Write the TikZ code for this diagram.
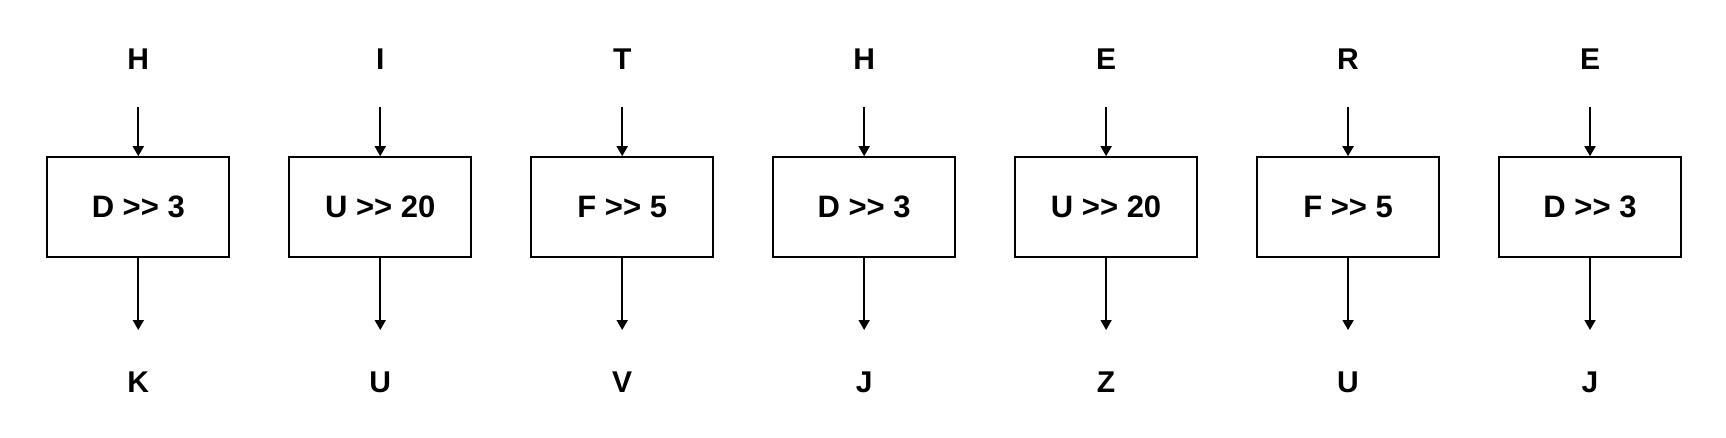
\documentclass[tikz,border=0pt]{standalone}
\usepackage{fontspec}
\setmainfont{Liberation Sans}
\usetikzlibrary{arrows.meta}
\begin{document}
\begin{tikzpicture}[x=1pt,y=-1pt,
  letter/.style={font=\fontsize{30}{33}\selectfont\bfseries, inner sep=0pt},
  opbox/.style={draw, line width=2pt, minimum width=182pt, minimum height=100pt, inner sep=0pt, font=\fontsize{31}{34}\selectfont\bfseries},
  arr/.style={line width=1.8pt, -{Triangle[length=10pt,width=11pt]}}]
\useasboundingbox (0,0) rectangle (1726,438);
\foreach \i/\t/\op/\o in {0/H/D >{}> 3/K, 1/I/U >{}> 20/U, 2/T/F >{}> 5/V, 3/H/D >{}> 3/J, 4/E/U >{}> 20/Z, 5/R/F >{}> 5/U, 6/E/D >{}> 3/J}{
  \pgfmathsetmacro{\cx}{138.3+241.95*\i}
  \node[letter] (t\i) at (\cx,59) {\t};
  \coordinate (a\i) at (\cx,107.5);
  \node[opbox] (b\i) at (\cx,207.2) {\op};
  \coordinate (c\i) at (\cx,330);
  \node[letter] (o\i) at (\cx,382.5) {\o};
  \draw[arr] (a\i) -- (b\i.north);
  \draw[arr] (b\i.south) -- (c\i);
}
\end{tikzpicture}
\end{document}
